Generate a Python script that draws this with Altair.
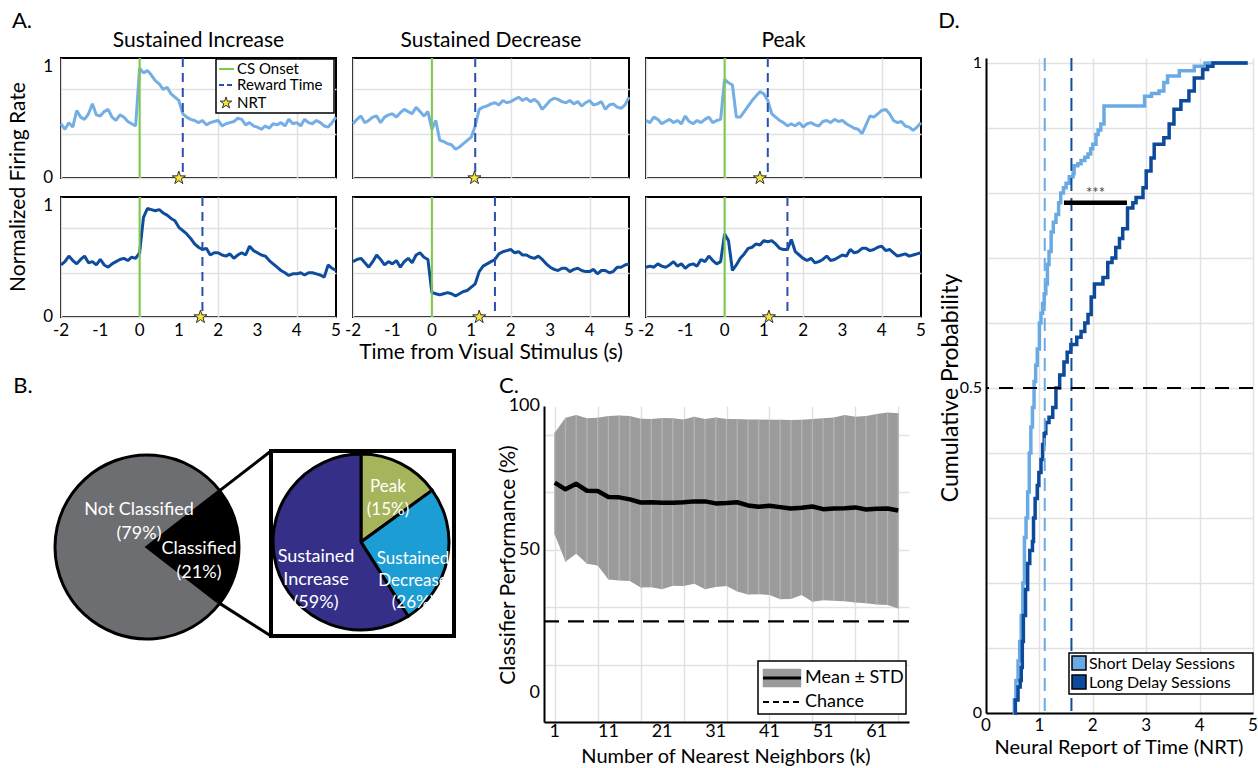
import math
import altair as alt
import pandas as pd

FONT = "Lato"

# ---------------- Panel A data (normalized firing rate traces) ----------------
TIME = [-2.0, -1.9, -1.8, -1.7, -1.6, -1.5, -1.4, -1.3, -1.2, -1.1,
        -1.0, -0.9, -0.8, -0.7, -0.6, -0.5, -0.4, -0.3, -0.2, -0.1,
        0.0, 0.1, 0.2, 0.3, 0.4, 0.5, 0.6, 0.7, 0.8, 0.9,
        1.0, 1.1, 1.2, 1.3, 1.4, 1.5, 1.6, 1.7, 1.8, 1.9,
        2.0, 2.1, 2.2, 2.3, 2.4, 2.5, 2.6, 2.7, 2.8, 2.9,
        3.0, 3.1, 3.2, 3.3, 3.4, 3.5, 3.6, 3.7, 3.8, 3.9,
        4.0, 4.1, 4.2, 4.3, 4.4, 4.5, 4.6, 4.7, 4.8, 4.9, 5.0]

SI_SHORT = [0.49, 0.44, 0.50, 0.46, 0.61, 0.55, 0.53, 0.58, 0.67, 0.57,
            0.56, 0.60, 0.62, 0.55, 0.52, 0.57, 0.55, 0.51, 0.49, 0.47,
            0.99, 0.95, 0.97, 0.93, 0.88, 0.85, 0.80, 0.82, 0.76, 0.73,
            0.70, 0.58, 0.55, 0.53, 0.52, 0.50, 0.52, 0.48, 0.50, 0.51,
            0.52, 0.47, 0.49, 0.50, 0.51, 0.54, 0.53, 0.48, 0.50, 0.47,
            0.46, 0.44, 0.47, 0.45, 0.49, 0.48, 0.50, 0.47, 0.53, 0.49,
            0.50, 0.47, 0.53, 0.50, 0.49, 0.52, 0.50, 0.47, 0.46, 0.50, 0.55]
SD_SHORT = [0.49, 0.53, 0.56, 0.50, 0.52, 0.55, 0.56, 0.50, 0.55, 0.57,
            0.58, 0.55, 0.59, 0.62, 0.60, 0.58, 0.64, 0.60, 0.56, 0.60,
            0.44, 0.52, 0.34, 0.33, 0.31, 0.30, 0.26, 0.28, 0.31, 0.34,
            0.37, 0.47, 0.62, 0.64, 0.65, 0.67, 0.68, 0.66, 0.70, 0.68,
            0.69, 0.71, 0.73, 0.70, 0.72, 0.69, 0.71, 0.68, 0.62, 0.66,
            0.70, 0.72, 0.71, 0.69, 0.68, 0.70, 0.67, 0.69, 0.65, 0.68,
            0.70, 0.66, 0.67, 0.69, 0.62, 0.66, 0.67, 0.64, 0.63, 0.66, 0.73]
PK_SHORT = [0.52, 0.50, 0.55, 0.53, 0.49, 0.51, 0.53, 0.50, 0.52, 0.49,
            0.56, 0.51, 0.49, 0.52, 0.50, 0.53, 0.55, 0.50, 0.52, 0.53,
            0.89, 0.86, 0.84, 0.55, 0.55, 0.60, 0.65, 0.70, 0.74, 0.78,
            0.76, 0.70, 0.58, 0.55, 0.52, 0.50, 0.47, 0.49, 0.47, 0.50,
            0.46, 0.49, 0.50, 0.48, 0.47, 0.51, 0.52, 0.50, 0.53, 0.51,
            0.52, 0.49, 0.47, 0.45, 0.44, 0.40, 0.48, 0.56, 0.55, 0.58,
            0.61, 0.62, 0.58, 0.52, 0.50, 0.51, 0.47, 0.46, 0.43, 0.46, 0.50]
SI_LONG = [0.47, 0.50, 0.55, 0.51, 0.48, 0.52, 0.55, 0.49, 0.50, 0.47,
           0.52, 0.47, 0.45, 0.48, 0.50, 0.52, 0.53, 0.51, 0.54, 0.53,
           0.58, 0.90, 0.98, 0.97, 0.96, 0.97, 0.94, 0.92, 0.89, 0.87,
           0.81, 0.78, 0.75, 0.71, 0.66, 0.63, 0.61, 0.62, 0.56, 0.58,
           0.58, 0.56, 0.55, 0.57, 0.53, 0.56, 0.58, 0.56, 0.64, 0.60,
           0.58, 0.56, 0.55, 0.51, 0.48, 0.45, 0.42, 0.40, 0.375, 0.39,
           0.39, 0.40, 0.38, 0.40, 0.40, 0.39, 0.38, 0.36, 0.47, 0.44, 0.42]
SD_LONG = [0.50, 0.52, 0.53, 0.49, 0.45, 0.50, 0.56, 0.52, 0.47, 0.50,
           0.48, 0.51, 0.45, 0.50, 0.53, 0.49, 0.56, 0.58, 0.54, 0.52,
           0.22, 0.21, 0.20, 0.21, 0.22, 0.21, 0.19, 0.21, 0.23, 0.24,
           0.27, 0.30, 0.41, 0.46, 0.48, 0.50, 0.52, 0.57, 0.59, 0.60,
           0.61, 0.58, 0.59, 0.56, 0.56, 0.54, 0.53, 0.55, 0.52, 0.48,
           0.45, 0.43, 0.42, 0.44, 0.44, 0.41, 0.43, 0.44, 0.42, 0.41,
           0.41, 0.43, 0.39, 0.42, 0.42, 0.40, 0.41, 0.45, 0.45, 0.47, 0.48]
PK_LONG = [0.45, 0.46, 0.45, 0.48, 0.46, 0.45, 0.47, 0.50, 0.46, 0.48,
           0.44, 0.47, 0.48, 0.46, 0.52, 0.50, 0.55, 0.51, 0.48, 0.50,
           0.75, 0.69, 0.42, 0.47, 0.53, 0.57, 0.62, 0.63, 0.66, 0.65,
           0.69, 0.68, 0.69, 0.66, 0.62, 0.61, 0.61, 0.70, 0.59, 0.56,
           0.53, 0.51, 0.53, 0.49, 0.50, 0.52, 0.55, 0.51, 0.52, 0.54,
           0.56, 0.55, 0.61, 0.58, 0.59, 0.62, 0.62, 0.60, 0.61, 0.63,
           0.64, 0.60, 0.61, 0.58, 0.55, 0.56, 0.57, 0.55, 0.56, 0.57, 0.58]

A_TITLES = ["Sustained Increase", "Sustained Decrease", "Peak"]
A_TOP = [SI_SHORT, SD_SHORT, PK_SHORT]
A_BOTTOM = [SI_LONG, SD_LONG, PK_LONG]
REWARD_SHORT = 1.1
REWARD_LONG = 1.6
NRT_SHORT = [1.0, 1.08, 0.9]
NRT_LONG = [1.55, 1.2, 1.13]
A_XGRID = [-2, -1, 0, 1, 2, 3, 4, 5]
A_YGRID = [0, 0.2, 0.4, 0.6, 0.8, 1.0]
A_XLABELS = [-2, -1, 0, 1, 2, 3, 4, 5]
A_YLABELS = [0, 1]

# ---------------- Panel B data ----------------
OUTER_LABELS = ["Classified", "Not Classified"]
OUTER_PCT = [21, 79]
INNER_LABELS = ["Peak", "Sustained Decrease", "Sustained Increase"]
INNER_PCT = [15, 26, 59]

# ---------------- Panel C data ----------------
K = [1, 3, 5, 7, 9, 11, 13, 15, 17, 19, 21, 23, 25, 27, 29, 31, 33,
     35, 37, 39, 41, 43, 45, 47, 49, 51, 53, 55, 57, 59, 61, 63, 65]
MEAN = [73.3, 71.0, 72.9, 70.5, 70.4, 68.3, 68.2, 67.5, 66.4, 66.5,
        66.3, 66.3, 66.5, 66.8, 66.8, 66.1, 66.2, 66.5, 65.4, 64.9,
        65.3, 64.8, 64.3, 64.6, 65.0, 64.1, 64.3, 64.4, 64.7, 64.0,
        64.2, 64.3, 63.6]
UPPER = [90.7, 95.9, 96.9, 95.7, 95.9, 96.5, 96.7, 96.5, 95.6, 95.5,
         95.8, 95.7, 95.3, 96.3, 95.5, 96.0, 95.5, 95.5, 95.3, 95.3,
         95.2, 95.2, 95.1, 95.2, 95.5, 95.7, 96.0, 96.9, 96.3, 96.5,
         97.2, 97.7, 97.5]
LOWER = [55.3, 45.8, 48.6, 45.1, 44.5, 39.6, 39.3, 39.1, 36.8, 36.9,
         36.2, 37.4, 37.3, 38.1, 36.2, 37.0, 37.3, 35.4, 34.4, 34.5,
         34.2, 32.7, 32.8, 34.2, 31.9, 32.4, 32.2, 32.0, 31.6, 31.3,
         30.9, 30.7, 29.5]
CHANCE = 25
C_XGRID = K
C_YGRID = [-10, 0, 10, 20, 30, 40, 50, 60, 70, 80, 90, 100]
C_XLABELS = [1, 11, 21, 31, 41, 51, 61]
C_YLABELS = [0, 50, 100]

# ---------------- Panel D data (cumulative distributions of NRT) ----------------
SHORT_NRT = [0.50, 0.53, 0.56, 0.60, 0.63, 0.66, 0.69, 0.72, 0.75, 0.78,
             0.81, 0.84, 0.87, 0.90, 0.93, 0.96, 1.00, 1.03, 1.06, 1.09,
             1.12, 1.15, 1.18, 1.22, 1.26, 1.31, 1.36, 1.40, 1.45, 1.50,
             1.56, 1.63, 1.65, 1.72, 1.78, 1.85, 1.91, 1.96, 2.00, 2.06,
             2.10, 2.15, 2.21, 2.97, 3.10, 3.24, 3.33, 3.40, 3.62, 3.90,
             4.10, 4.90]
SHORT_CDF = [0.00, 0.02, 0.05, 0.08, 0.11, 0.15, 0.20, 0.27, 0.30, 0.34,
             0.40, 0.44, 0.47, 0.51, 0.535, 0.56, 0.60, 0.615, 0.63, 0.645,
             0.66, 0.69, 0.71, 0.74, 0.755, 0.767, 0.785, 0.80, 0.808, 0.815,
             0.825, 0.83, 0.842, 0.845, 0.85, 0.855, 0.86, 0.868, 0.875, 0.89,
             0.897, 0.906, 0.934, 0.949, 0.953, 0.957, 0.97, 0.98, 0.988, 0.995,
             1.0, 1.0]
LONG_NRT = [0.52, 0.55, 0.60, 0.64, 0.66, 0.68, 0.70, 0.74, 0.78, 0.82,
            0.87, 0.89, 0.92, 0.96, 0.99, 1.03, 1.06, 1.09, 1.12, 1.18,
            1.25, 1.31, 1.38, 1.46, 1.52, 1.59, 1.70, 1.78, 1.85, 1.91,
            1.97, 2.03, 2.19, 2.28, 2.36, 2.43, 2.50, 2.56, 2.65, 2.75,
            2.81, 2.94, 3.00, 3.09, 3.15, 3.33, 3.43, 3.52, 3.65, 3.80,
            3.90, 4.06, 4.15, 4.25, 4.90]
LONG_CDF = [0.00, 0.02, 0.04, 0.05, 0.07, 0.11, 0.15, 0.19, 0.23, 0.25,
            0.264, 0.30, 0.33, 0.35, 0.37, 0.39, 0.413, 0.43, 0.447, 0.455,
            0.47, 0.50, 0.52, 0.54, 0.555, 0.567, 0.578, 0.587, 0.60, 0.613,
            0.64, 0.66, 0.67, 0.693, 0.70, 0.716, 0.73, 0.745, 0.777, 0.785,
            0.793, 0.808, 0.834, 0.854, 0.875, 0.885, 0.906, 0.929, 0.942, 0.957,
            0.977, 0.99, 0.995, 1.0, 1.0]
SIG_FROM, SIG_TO, SIG_LEVEL = 1.46, 2.64, 0.785
D_XGRID = [0, 0.5, 1, 1.5, 2, 2.5, 3, 3.5, 4, 4.5, 5]
D_YGRID = [0, 0.1, 0.2, 0.3, 0.4, 0.5, 0.6, 0.7, 0.8, 0.9, 1.0]
D_XLABELS = [0, 1, 2, 3, 4, 5]
D_YLABELS = [0, 0.5, 1]

# ---------------- styles / layout ----------------
LIGHT = "#74aee4"
DARK = "#0e4c9d"
GREEN = "#7cc94b"
REWARD_BLUE = "#2a4fae"
GRID = "#e1e1e1"
STAR = ("M0,-1L0.225,-0.309L0.951,-0.309L0.363,0.118L0.588,0.809L0,0.382"
        "L-0.588,0.809L-0.363,0.118L-0.951,-0.309L-0.225,-0.309Z")
AW = [275, 276, 275]
AH = 120
A_YTOP = 1.084
B_W, B_H = 420, 316
C_W, C_H = 365, 316
D_W, D_H = 267, 655
D_YTOP = 655 / 650
# offsets between nested blocks (plot-area origin to plot-area origin)
ROW_STEP = 139      # A row 1 -> A row 2
BC_STEP = 348       # A row 1 -> panels B/C
D_STEP = 925        # left column -> panel D

DUMMY = pd.DataFrame({"d": [0]})


def txt(s, x, y, size=16, color="black", align="center", baseline="middle", **kw):
    props = dict(text=s, fontSize=size, font=FONT, color=color, align=align, baseline=baseline)
    props.update(kw)
    return alt.Chart(DUMMY).mark_text(**props).encode(x=alt.value(x), y=alt.value(y))


def seg(x1, y1, x2, y2, color="black", width=2, dash=None):
    props = dict(color=color, strokeWidth=width)
    if dash:
        props["strokeDash"] = dash
    return alt.Chart(DUMMY).mark_rule(**props).encode(
        x=alt.value(x1), y=alt.value(y1), x2=alt.value(x2), y2=alt.value(y2))


def box(x1, y1, x2, y2, fill="white", stroke="black", width=1.5):
    return alt.Chart(DUMMY).mark_rect(fill=fill, stroke=stroke, strokeWidth=width).encode(
        x=alt.value(x1), x2=alt.value(x2), y=alt.value(y1), y2=alt.value(y2))


def grid_axis(values, domain=False):
    kw = dict(values=values, title=None, labels=False, ticks=False, grid=True,
              gridColor=GRID, gridWidth=1.5)
    if domain:
        kw.update(domain=True, domainColor="black", domainWidth=2)
    else:
        kw["domain"] = False
    return alt.Axis(**kw)


def fmt(v):
    return str(int(v)) if float(v).is_integer() else str(v)


def x_tick_labels(values, field, ypix, size):
    df = pd.DataFrame({field: values, "lab": [fmt(v) for v in values]})
    return alt.Chart(df).mark_text(fontSize=size, font=FONT, color="black", baseline="middle").encode(
        x=f"{field}:Q", y=alt.value(ypix), text="lab:N")


def y_tick_labels(values, field, xpix, size):
    df = pd.DataFrame({field: values, "lab": [fmt(v) for v in values]})
    return alt.Chart(df).mark_text(fontSize=size, font=FONT, color="black", baseline="middle",
                                   align="right").encode(
        y=f"{field}:Q", x=alt.value(xpix), text="lab:N")


# ---------------- Panel A ----------------
def a_panel(vals, nrt, reward, color, row, col):
    w = AW[col]
    df = pd.DataFrame({"t": TIME, "v": vals})
    x = alt.X("t:Q", scale=alt.Scale(domain=[-2, 5], nice=False, zero=False), axis=grid_axis(A_XGRID))
    y = alt.Y("v:Q", scale=alt.Scale(domain=[0, A_YTOP], nice=False, zero=False),
              axis=grid_axis(A_YGRID))
    layers = [
        alt.Chart(df).mark_line(color=color, strokeWidth=3, strokeJoin="bevel").encode(x=x, y=y),
        alt.Chart(pd.DataFrame({"t": [0.0]})).mark_rule(color=GREEN, strokeWidth=2).encode(x="t:Q"),
        alt.Chart(pd.DataFrame({"t": [reward]})).mark_rule(
            color=REWARD_BLUE, strokeWidth=2, strokeDash=[9, 6]).encode(x="t:Q"),
        alt.Chart(pd.DataFrame({"t": [nrt], "v": [0.0]})).mark_point(
            shape=STAR, filled=True, fill="#f6e43a", stroke="#333333", strokeWidth=1,
            size=190, opacity=1).encode(x="t:Q", y="v:Q"),
    ]
    if row == 1:
        layers.append(x_tick_labels(A_XLABELS, "t", AH + 14, 17))
    if col == 0:
        layers.append(y_tick_labels(A_YLABELS, "v", -8, 17))
    if row == 0:
        layers.append(txt(A_TITLES[col], w / 2, -17, size=21))
    if row == 0 and col == 0:
        layers += [
            alt.Chart(DUMMY).mark_rect(opacity=0).encode(
                x=alt.value(-60), x2=alt.value(-59), y=alt.value(-57), y2=alt.value(-56)),
            txt("A.", -39, -37, size=22),
            txt("Normalized Firing Rate", -42, 129, size=21, angle=270),
            box(155, 1, 273, 55),
            seg(158, 11, 173, 11, color=GREEN, width=2),
            seg(158, 27, 173, 27, color=REWARD_BLUE, width=2, dash=[5, 3]),
            alt.Chart(DUMMY).mark_point(shape=STAR, filled=True, fill="#f6e43a", stroke="#333333",
                                        strokeWidth=1, size=150, opacity=1).encode(
                x=alt.value(165), y=alt.value(45)),
            txt("CS Onset", 176, 11, size=15, align="left"),
            txt("Reward Time", 176, 27, size=15, align="left"),
            txt("NRT", 176, 45, size=15, align="left"),
        ]
    if row == 1 and col == 1:
        layers.append(txt("Time from Visual Stimulus (s)", 138, 156, size=21))
    return alt.layer(*layers).properties(
        width=w, height=AH, view=alt.ViewBackground(stroke="black", strokeWidth=2))


row1 = alt.hconcat(*[a_panel(A_TOP[i], NRT_SHORT[i], REWARD_SHORT, LIGHT, 0, i) for i in range(3)],
                   spacing=17, bounds="flush")
row2 = alt.hconcat(*[a_panel(A_BOTTOM[i], NRT_LONG[i], REWARD_LONG, DARK, 1, i) for i in range(3)],
                   spacing=17, bounds="flush")
panel_a = alt.vconcat(row1, row2, spacing=ROW_STEP, bounds="flush")

# ---------------- Panel B ----------------
CX1, CY1, R1 = 86, 141, 92
CX2, CY2, R2 = 300, 136, 88
BOX = (210, 45, 393, 230)
start = math.pi / 2 - math.pi * OUTER_PCT[0] / 100
end = start + 2 * math.pi * OUTER_PCT[0] / 100
e1 = (CX1 + R1 * math.sin(start), CY1 - R1 * math.cos(start))
e2 = (CX1 + R1 * math.sin(end), CY1 - R1 * math.cos(end))

df_out = pd.DataFrame({"g1": OUTER_LABELS, "s1": OUTER_PCT, "o1": [0, 1]})
df_in = pd.DataFrame({"g2": INNER_LABELS, "s2": INNER_PCT, "o2": [0, 1, 2]})

outer = alt.Chart(df_out).mark_arc(radius=R1, stroke="black", strokeWidth=3).encode(
    theta=alt.Theta("s1:Q", stack=True, scale=alt.Scale(range=[start, start + 2 * math.pi])),
    order=alt.Order("o1:Q"),
    color=alt.Color("g1:N", scale=alt.Scale(domain=OUTER_LABELS, range=["#000000", "#6d6e71"]),
                    legend=None),
    x=alt.value(CX1), y=alt.value(CY1))
inner = alt.Chart(df_in).mark_arc(radius=R2, stroke="black", strokeWidth=3).encode(
    theta=alt.Theta("s2:Q", stack=True, scale=alt.Scale(range=[0, 2 * math.pi])),
    order=alt.Order("o2:Q"),
    color=alt.Color("g2:N", scale=alt.Scale(domain=INNER_LABELS,
                                            range=["#a6b55c", "#1c9dd3", "#352f88"]),
                    legend=None),
    x=alt.value(CX2), y=alt.value(CY2))

panel_b = alt.layer(
    box(*BOX, fill="white", width=4),
    seg(e1[0], e1[1], BOX[0], BOX[1], width=3),
    seg(e2[0], e2[1], BOX[0], BOX[3], width=3),
    outer,
    inner,
    txt(f"Not Classified\n({OUTER_PCT[1]}%)", 78, 104, size=18, color="white",
        lineBreak="\n", lineHeight=24),
    txt(f"Classified\n({OUTER_PCT[0]}%)", 138, 143, size=18, color="white",
        lineBreak="\n", lineHeight=24),
    txt(f"Peak\n({INNER_PCT[0]}%)", 327, 81, size=17, color="white", lineBreak="\n", lineHeight=23),
    txt(f"Sustained\nIncrease\n({INNER_PCT[2]}%)", 255, 151, size=18, color="white",
        lineBreak="\n", lineHeight=23),
    txt(f"Sustained\nDecrease\n({INNER_PCT[1]}%)", 352, 153, size=17, color="white",
        lineBreak="\n", lineHeight=22),
    txt("B.", -38, -20, size=22),
).resolve_scale(theta="independent", color="independent").properties(width=B_W, height=B_H)

# ---------------- Panel C ----------------
dfc = pd.DataFrame({"k": K, "mean": MEAN, "lo": LOWER, "hi": UPPER})
xc = alt.X("k:Q", scale=alt.Scale(domain=[-1, 67], nice=False, zero=False),
           axis=grid_axis(C_XGRID, domain=True))
yc = alt.Y("lo:Q", scale=alt.Scale(domain=[-10, 100], nice=False, zero=False),
           axis=grid_axis(C_YGRID, domain=True))
panel_c = alt.layer(
    alt.Chart(dfc).mark_area(color="#9b9b9b", opacity=1).encode(x=xc, y=yc, y2="hi:Q"),
    alt.Chart(dfc).mark_rule(color="#b4b4b4", strokeWidth=1.3).encode(x="k:Q", y="lo:Q", y2="hi:Q"),
    alt.Chart(dfc).mark_line(color="black", strokeWidth=4.5, strokeJoin="round").encode(
        x="k:Q", y="mean:Q"),
    alt.Chart(pd.DataFrame({"lo": [CHANCE]})).mark_rule(
        color="black", strokeWidth=2.2, strokeDash=[16, 9]).encode(y="lo:Q"),
    x_tick_labels(C_XLABELS, "k", C_H + 10, 18),
    y_tick_labels(C_YLABELS, "lo", -4, 18),
    box(214, 255, 362, 308),
    box(219, 263, 257, 281, fill="#9b9b9b", stroke="#9b9b9b", width=0.5),
    seg(219, 272, 257, 272, width=3),
    seg(219, 296, 257, 296, width=2, dash=[6, 4]),
    txt("Mean \u00b1 STD", 261, 272, size=18, align="left"),
    txt("Chance", 261, 296, size=18, align="left"),
    txt("C.", -35, -20, size=22),
    txt("Classifier Performance (%)", -35, 159, size=21, angle=270),
    txt("Number of Nearest Neighbors (k)", 182, 351, size=20),
).properties(width=C_W, height=C_H)

panel_bc = alt.hconcat(panel_b, panel_c, spacing=63, bounds="flush")
left = alt.vconcat(panel_a, panel_bc, spacing=BC_STEP, bounds="flush")

# ---------------- Panel D ----------------
df_short = pd.DataFrame({"nrt": SHORT_NRT, "p": SHORT_CDF})
df_long = pd.DataFrame({"nrt": LONG_NRT, "p": LONG_CDF})
xd = alt.X("nrt:Q", scale=alt.Scale(domain=[0, 5], nice=False, zero=False),
           axis=grid_axis(D_XGRID, domain=True))
yd = alt.Y("p:Q", scale=alt.Scale(domain=[0, D_YTOP], nice=False, zero=False),
           axis=grid_axis(D_YGRID, domain=True))
panel_d = alt.layer(
    alt.Chart(df_short).mark_line(color="#6aaae4", strokeWidth=3.5, interpolate="step-after").encode(
        x=xd, y=yd),
    alt.Chart(df_long).mark_line(color="#0d4a9c", strokeWidth=3.5, interpolate="step-after").encode(
        x="nrt:Q", y="p:Q"),
    alt.Chart(pd.DataFrame({"nrt": [REWARD_SHORT]})).mark_rule(
        color="#6aaae4", strokeWidth=2, strokeDash=[13, 7]).encode(x="nrt:Q"),
    alt.Chart(pd.DataFrame({"nrt": [REWARD_LONG]})).mark_rule(
        color="#0f4fa0", strokeWidth=2, strokeDash=[13, 7]).encode(x="nrt:Q"),
    alt.Chart(pd.DataFrame({"p": [0.5]})).mark_rule(
        color="black", strokeWidth=2, strokeDash=[14, 10]).encode(y="p:Q"),
    alt.Chart(pd.DataFrame({"nrt": [SIG_FROM], "nrt2": [SIG_TO], "p": [SIG_LEVEL]})).mark_rule(
        color="black", strokeWidth=4.5).encode(x="nrt:Q", x2="nrt2:Q", y="p:Q"),
    alt.Chart(pd.DataFrame({"nrt": [(SIG_FROM + SIG_TO) / 2], "p": [SIG_LEVEL]})).mark_text(
        text="***", font=FONT, fontSize=15, color="#444444", baseline="bottom", dy=-2).encode(
        x="nrt:Q", y="p:Q"),
    x_tick_labels(D_XLABELS, "nrt", D_H + 13, 17),
    y_tick_labels(D_YLABELS, "p", -4, 16),
    box(83, 595, 267, 636),
    box(86, 598, 100, 612, fill="#6aaae4", width=1.5),
    box(86, 617, 100, 631, fill="#0d4a9c", width=1.5),
    txt("Short Delay Sessions", 103, 606, size=16, align="left"),
    txt("Long Delay Sessions", 103, 625, size=16, align="left"),
    txt("D.", -37, -37, size=22),
    txt("Cumulative Probability", -35, 330, size=23, angle=270),
    txt("Neural Report of Time (NRT)", 133, 690, size=20),
).properties(width=D_W, height=D_H)

chart = alt.hconcat(left, panel_d, spacing=D_STEP, bounds="flush").properties(
    padding=0
).configure(font=FONT).configure_view(strokeWidth=0)

chart.save("out.html", embed_options={"renderer": "svg", "actions": False})
